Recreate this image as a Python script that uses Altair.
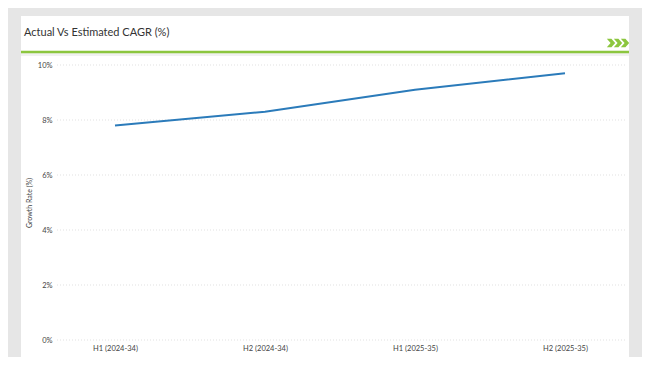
import altair as alt
import pandas as pd

categories = ["H1 (2024-34)", "H2 (2024-34)", "H1 (2025-35)", "H2 (2025-35)"]
growth = [7.8, 8.3, 9.1, 9.7]
y_ticks = [0, 2, 4, 6, 8, 10]

df = pd.DataFrame({"period": categories, "rate": growth})
grid_df = pd.DataFrame({"tick": y_ticks})

one = alt.Data(values=[{"a": 1}])

BG = "#e6e6e6"
GREEN = "#8cc63f"
FONT = "Lato"

# decorations (pixel positions relative to plot area)
header = alt.Chart(one).mark_rect(color="white").encode(
    x=alt.value(-34), x2=alt.value(574), y=alt.value(-49), y2=alt.value(-13)
)
body = alt.Chart(one).mark_rect(color="white").encode(
    x=alt.value(-34), x2=alt.value(574), y=alt.value(-9), y2=alt.value(292)
)
gap = alt.Chart(one).mark_rect(color="#f1f1f1").encode(
    x=alt.value(-34), x2=alt.value(574), y=alt.value(-12), y2=alt.value(-9)
)
green_line = alt.Chart(one).mark_rule(color=GREEN, strokeWidth=2.5).encode(
    x=alt.value(-34), x2=alt.value(574), y=alt.value(-13)
)
title = alt.Chart(one).mark_text(
    text="Actual Vs Estimated CAGR (%)", font=FONT, fontSize=11, color="#333333",
    align="left", baseline="alphabetic"
).encode(x=alt.value(-31), y=alt.value(-29))

chevron_path = "M -1 -1 L 0.1 -1 L 1 0 L 0.1 1 L -1 1 L -0.1 0 Z"
chevrons = [
    alt.Chart(one).mark_point(shape=chevron_path, filled=True, color=GREEN,
                              opacity=1, size=70, strokeWidth=0).encode(
        x=alt.value(xv), y=alt.value(-22)
    )
    for xv in [556, 563, 570]
]

grid = alt.Chart(grid_df).mark_rule(color="#d9d9d9", strokeWidth=0.8, strokeDash=[1, 2]).encode(
    y=alt.Y("tick:Q", scale=alt.Scale(domain=[0, 10]))
)

line = alt.Chart(df).mark_line(color="#2b7bba", strokeWidth=2).encode(
    x=alt.X("period:N", sort=categories,
            scale=alt.Scale(type="point", padding=0.4),
            axis=alt.Axis(title=None, labelAngle=0, labelFont=FONT, labelFontSize=7.5,
                          labelColor="#444444", ticks=False, domain=False, grid=False,
                          labelPadding=4, zindex=1)),
    y=alt.Y("rate:Q", scale=alt.Scale(domain=[0, 10], nice=False),
            axis=alt.Axis(title="Growth Rate (%)", values=y_ticks,
                          labelExpr="datum.value + '%'", labelFont=FONT, labelFontSize=7.5,
                          labelColor="#444444", ticks=False, domain=False, grid=False,
                          labelPadding=3, titleFont=FONT, titleFontSize=7,
                          titleFontWeight="normal", titleColor="#444444",
                          titleX=-26, titleY=137.5, titleBaseline="middle",
                          titleAlign="center", zindex=1))
)

chart = alt.layer(header, gap, body, green_line, title, *chevrons, grid, line).properties(
    width=570, height=275, background=BG,
    autosize=alt.AutoSizeParams(type="none"),
    padding={"left": 47, "top": 57, "right": 17, "bottom": 17},
).configure_view(stroke=None)

chart.save("out.html", embed_options={"renderer": "svg", "actions": False})
